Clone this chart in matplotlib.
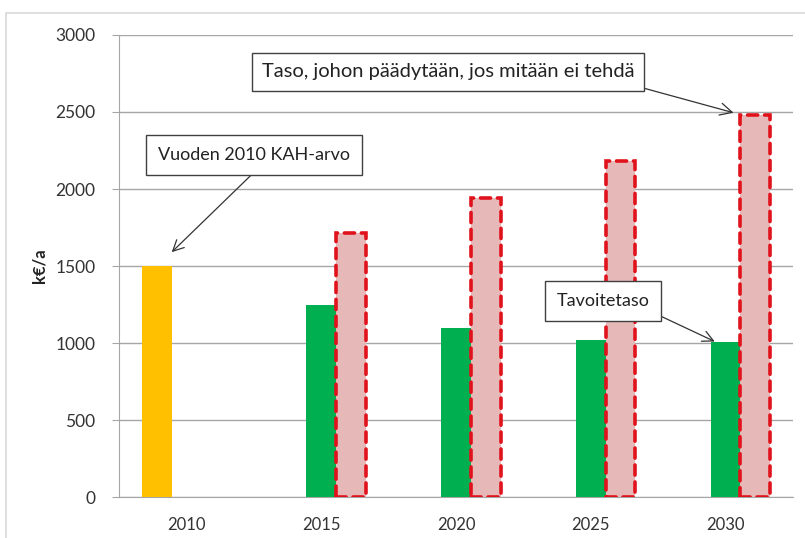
import matplotlib
matplotlib.use('Agg')
import matplotlib.pyplot as plt
import numpy as np
from matplotlib.patches import Rectangle

plt.rcParams['font.family'] = ['Lato', 'DejaVu Sans']

# data (k€/a)
years = ['2010', '2015', '2020', '2025', '2030']
kah2010 = [1500, np.nan, np.nan, np.nan, np.nan]
target = [np.nan, 1250, 1100, 1020, 1010]
noAction = [np.nan, 1715, 1940, 2185, 2480]

x = np.arange(len(years))
w = 0.22

fig = plt.figure(figsize=(8.05, 5.38), dpi=100)
ax = fig.add_axes([0.148, 0.076, 0.837, 0.859])

# outer frame of the picture
fig.patches.append(Rectangle((0.007, -0.01), 1.0, 0.985, transform=fig.transFigure,
                             fill=False, edgecolor='#d9d9d9', linewidth=1.2))

ax.bar(x - w, kah2010, w, color='#FFC000', zorder=3)
ax.bar(x, target, w, color='#00B050', zorder=3)
ax.bar(x + w, noAction, w, color='#E6B9B8', edgecolor='#E0121C', linewidth=2.6,
       linestyle=(0, (2.8, 1.9)), capstyle='round', zorder=3)

ax.set_xlim(-0.5, 4.5)
ax.set_ylim(0, 3000)
ax.set_yticks(np.arange(0, 3001, 500))
ax.set_xticks(x)
ax.set_xticklabels(years)
ax.yaxis.grid(True, color='#a6a6a6', linewidth=1.0, zorder=0)
for s in ['top', 'right']:
    ax.spines[s].set_visible(False)
ax.spines['left'].set_color('#a6a6a6')
ax.spines['bottom'].set_color('#a6a6a6')
ax.tick_params(axis='y', colors='#a6a6a6', labelcolor='#333333', labelsize=12.5, length=5, pad=12)
ax.tick_params(axis='x', length=0, labelcolor='#333333', labelsize=12, pad=14)
ax.set_ylabel('k€/a', fontsize=12, fontweight='bold', color='#222222', labelpad=6)

boxprops = dict(boxstyle='square,pad=0.65', facecolor='white', edgecolor='#404040', linewidth=1.0)
arrow = dict(arrowstyle='->,head_length=0.6,head_width=0.3', color='#333333', linewidth=0.9,
             shrinkA=0, shrinkB=0)

ax.annotate('Vuoden 2010 KAH-arvo', xy=(-w / 2, kah2010[0] + 90), xytext=(0.50, 2220),
            ha='center', va='center', fontsize=13, color='#222222', bbox=boxprops,
            arrowprops=dict(arrow, relpos=(0.55, 0.0)), zorder=5)
ax.annotate('Taso, johon päädytään, jos mitään ei tehdä', xy=(4 + w / 2 - 0.05, noAction[4] + 15),
            xytext=(1.94, 2760), ha='center', va='center', fontsize=14.5, color='#222222',
            bbox=dict(boxprops, boxstyle='square,pad=0.5'),
            arrowprops=dict(arrow, relpos=(0.95, 0.0)), zorder=5)
ax.annotate('Tavoitetaso', xy=(4 - 0.08, target[4]), xytext=(3.09, 1273),
            ha='center', va='center', fontsize=13, color='#222222', bbox=boxprops,
            arrowprops=dict(arrow, relpos=(0.94, 0.05)), zorder=5)

plt.savefig('out.png', dpi=100)
